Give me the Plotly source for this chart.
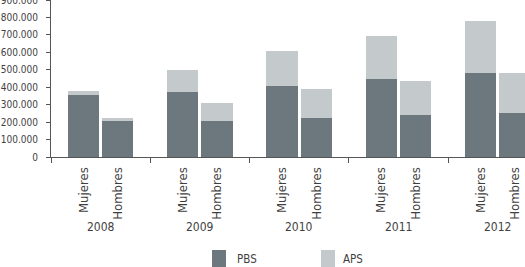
import plotly.graph_objects as go

years = ["2008", "2009", "2010", "2011", "2012"]
sexes = ["Mujeres", "Hombres"]
pbs_mujeres = [357000, 374000, 409000, 445000, 479000]
pbs_hombres = [205000, 209000, 224000, 241000, 255000]
aps_mujeres = [24000, 122000, 197000, 248000, 298000]
aps_hombres = [21000, 102000, 165000, 193000, 226000]
y_ticks = [0, 100000, 200000, 300000, 400000, 500000, 600000, 700000, 800000, 900000]

DARK = "#6c777e"
LIGHT = "#c4c9cc"
TXT = "#3f3f3f"
FONT = "DejaVu Sans Condensed, sans-serif"

W, H = 525, 267
ML, MT, MB = 51, 0, 110
PH = H - MT - MB

off = 0.173
bw = 0.316
xs, pbs, aps, labels = [], [], [], []
for g in range(len(years)):
    xs += [g - off, g + off]
    pbs += [pbs_mujeres[g], pbs_hombres[g]]
    aps += [aps_mujeres[g], aps_hombres[g]]
    labels += sexes

fig = go.Figure()
fig.add_bar(x=xs, y=pbs, width=bw, marker=dict(color=DARK, line_width=0), name="PBS", showlegend=False)
fig.add_bar(x=xs, y=aps, width=bw, marker=dict(color=LIGHT, line_width=0), name="APS", showlegend=False)

def py(pix):
    return (MT + PH - pix) / PH

annotations = []
for g, yr in enumerate(years):
    annotations.append(dict(x=g, y=py(227), xref="x", yref="paper", text=yr, showarrow=False,
                            xanchor="center", yanchor="middle", font=dict(size=12, color=TXT, family=FONT)))

shapes = []
legend_items = [("PBS", DARK, 212, 235), ("APS", LIGHT, 321, 341)]
for name, col, sx, tx in legend_items:
    shapes.append(dict(type="rect", xref="paper", yref="paper",
                       x0=(sx - ML) / (W - ML), x1=(sx + 14 - ML) / (W - ML),
                       y0=py(250), y1=py(270), fillcolor=col, line_width=0, layer="above"))
    annotations.append(dict(x=(tx - ML) / (W - ML), y=py(258.5), xref="paper", yref="paper", text=name,
                            showarrow=False, xanchor="left", yanchor="middle",
                            font=dict(size=11.5, color=TXT, family=FONT)))

fig.update_layout(
    width=W, height=H,
    margin=dict(l=ML, r=0, t=MT, b=MB),
    barmode="stack",
    bargap=0,
    plot_bgcolor="white", paper_bgcolor="white",
    separators=",.",
    font=dict(family=FONT, color=TXT, size=11),
    annotations=annotations,
    shapes=shapes,
    xaxis=dict(
        range=[-0.5, 4.275],
        automargin=False,
        tickmode="array", tickvals=xs, ticktext=labels, tickangle=-90,
        ticks="outside", ticklen=0, tickcolor="white",
        showline=True, linecolor="#555555", linewidth=1,
        showgrid=False, zeroline=False,
        tickfont=dict(size=13, color=TXT, family=FONT),
        ticklabelstandoff=4,
        minor=dict(tickmode="array", tickvals=[-0.5, 0.5, 1.5, 2.5, 3.5], ticks="outside",
                   ticklen=5, tickcolor="#555555", tickwidth=1, showgrid=False),
    ),
    yaxis=dict(
        range=[0, 900000],
        automargin=False,
        tickmode="array", tickvals=y_ticks, tickformat=",",
        ticks="outside", ticklen=4, tickcolor="#555555", tickwidth=1,
        showline=True, linecolor="#555555", linewidth=1,
        showgrid=False, zeroline=False,
        tickfont=dict(size=10, color=TXT, family=FONT),
        ticklabelstandoff=6,
        ticklabeloverflow="allow",
    ),
)

fig.write_html("out.html")
